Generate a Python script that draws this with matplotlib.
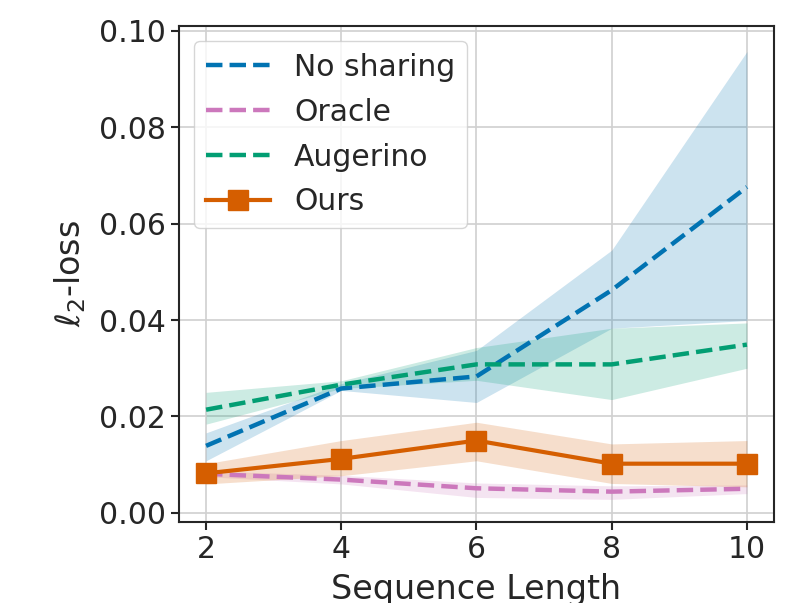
import matplotlib
matplotlib.use("Agg")
import matplotlib.pyplot as plt
import numpy as np

seq_len = [2, 4, 6, 8, 10]

no_sharing = [0.0139, 0.0258, 0.0283, 0.0462, 0.0676]
no_sharing_lo = [0.0108, 0.0254, 0.0229, 0.0383, 0.0399]
no_sharing_hi = [0.0166, 0.0268, 0.0337, 0.0545, 0.0957]

oracle = [0.0081, 0.0069, 0.0051, 0.0044, 0.0050]
oracle_lo = [0.0075, 0.0060, 0.0032, 0.0028, 0.0040]
oracle_hi = [0.0087, 0.0078, 0.0062, 0.0056, 0.0058]

augerino = [0.0214, 0.0266, 0.0308, 0.0308, 0.0349]
augerino_lo = [0.0184, 0.0258, 0.0275, 0.0235, 0.0300]
augerino_hi = [0.0250, 0.0274, 0.0343, 0.0383, 0.0394]

ours = [0.0082, 0.0112, 0.0150, 0.0102, 0.0102]
ours_lo = [0.0060, 0.0077, 0.0108, 0.0061, 0.0054]
ours_hi = [0.0102, 0.0150, 0.0188, 0.0143, 0.0150]

c_blue = "#0173b2"
c_pink = "#cc78bc"
c_green = "#029e73"
c_orange = "#d55e00"
txt = "#262626"

plt.rcParams["font.family"] = ["DejaVu Sans"]
plt.rcParams["mathtext.fontset"] = "dejavusans"

fig = plt.figure(figsize=(7.9, 6.03), dpi=100)
ax = fig.add_axes([0.2266, 0.1343, 0.7531, 0.8226])

ax.set_axisbelow(True)
ax.grid(True, color="#d0d0d0", linewidth=1.2)

ax.fill_between(seq_len, no_sharing_lo, no_sharing_hi, color=c_blue, alpha=0.2, linewidth=0)
ax.fill_between(seq_len, oracle_lo, oracle_hi, color=c_pink, alpha=0.2, linewidth=0)
ax.fill_between(seq_len, augerino_lo, augerino_hi, color=c_green, alpha=0.2, linewidth=0)
ax.fill_between(seq_len, ours_lo, ours_hi, color=c_orange, alpha=0.2, linewidth=0)

ax.plot(seq_len, no_sharing, "--", color=c_blue, lw=3.2, label="No sharing")
ax.plot(seq_len, oracle, "--", color=c_pink, lw=3.2, label="Oracle")
ax.plot(seq_len, augerino, "--", color=c_green, lw=3.2, label="Augerino")
ax.plot(seq_len, ours, "-", color=c_orange, lw=3, marker="s", markersize=14, label="Ours")

ax.set_xlim(1.6, 10.4)
ax.set_ylim(-0.0019, 0.101)
ax.set_xticks([2, 4, 6, 8, 10])
ax.set_yticks([0.0, 0.02, 0.04, 0.06, 0.08, 0.10])
ax.set_yticklabels(["0.00", "0.02", "0.04", "0.06", "0.08", "0.10"])

fs = 21.5
lfs = 24
ax.tick_params(axis="both", labelsize=fs, colors=txt, length=6, width=1.5, direction="out")
for s in ax.spines.values():
    s.set_color(txt)
    s.set_linewidth(1.5)

ax.set_xlabel("Sequence Length", fontsize=lfs, color=txt, labelpad=6)
ax.set_ylabel(r"$\ell_2$-loss", fontsize=lfs, color=txt, labelpad=8)

leg = ax.legend(loc="upper left", fontsize=fs, frameon=True, handlelength=2.15,
                borderpad=0.4, labelspacing=0.53, handletextpad=0.8,
                bbox_to_anchor=(0.0, 1.0), borderaxespad=0.5)
leg.get_frame().set_edgecolor("#cccccc")
for t in leg.get_texts():
    t.set_color(txt)

fig.savefig("out.png", dpi=100)
